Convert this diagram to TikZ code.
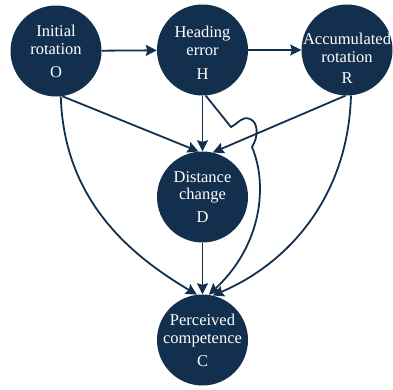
\documentclass[tikz,border=0pt]{standalone}
\usepackage{fontspec}
\setmainfont{Liberation Serif}
\usetikzlibrary{arrows.meta}
\definecolor{navy}{RGB}{19,47,78}
\begin{document}
\begin{tikzpicture}[x=1pt,y=-1pt,
  circ/.style={circle, fill=navy, minimum size=91pt, inner sep=0pt},
  lbl/.style={text=white, font=\fontsize{16.5}{18}\selectfont, anchor=base, inner sep=0pt},
  edge/.style={draw=navy, line width=1.8pt, -{Stealth[length=11pt,width=11pt,inset=1.5pt]}}]
\useasboundingbox (0,0) rectangle (393,389);
% nodes
\node[circ] (O) at (56,51) {};
\node[lbl] (O1) at (56,36) {Initial};
\node[lbl] (O2) at (56,54) {rotation};
\node[lbl] (O3) at (56,77) {O};
\node[circ] (H) at (202.5,50) {};
\node[lbl] (H1) at (202.5,37) {Heading};
\node[lbl] (H2) at (202.5,55) {error};
\node[lbl] (H3) at (202.5,79) {H};
\node[circ] (R) at (347,50) {};
\node[lbl] (R1) at (347,44) {Accumulated};
\node[lbl] (R2) at (347,62) {rotation};
\node[lbl] (R3) at (347,83) {R};
\node[circ] (D) at (202.5,197) {};
\node[lbl] (D1) at (202.5,182) {Distance};
\node[lbl] (D2) at (202.5,199) {change};
\node[lbl] (D3) at (202.5,222) {D};
\node[circ] (C) at (202.5,340) {};
\node[lbl] (C1) at (202.5,325) {Perceived};
\node[lbl] (C2) at (202.5,343) {competence};
\node[lbl] (C3) at (202.5,366) {C};
% edges
\draw[edge] (O) -- (H);
\draw[edge] (H) -- (R);
\draw[edge] (O.-82) -- (D.95);
\draw[edge] (H) -- (D);
\draw[edge] (R.-92) -- (D.77);
\draw[edge] (D) -- (C);
\draw[edge] (O.-84) .. controls (64,200) and (130,255) .. (C.97);
\draw[edge] (R.-85) .. controls (348,200) and (285,265) .. (C.77);
\draw[edge] (H.-86) -- (231,127) .. controls (240,122) and (242,116) .. (250,119)
  .. controls (258,122) and (259,136) .. (252,147)
  .. controls (268,185) and (262,245) .. (C.82);
\end{tikzpicture}
\end{document}
